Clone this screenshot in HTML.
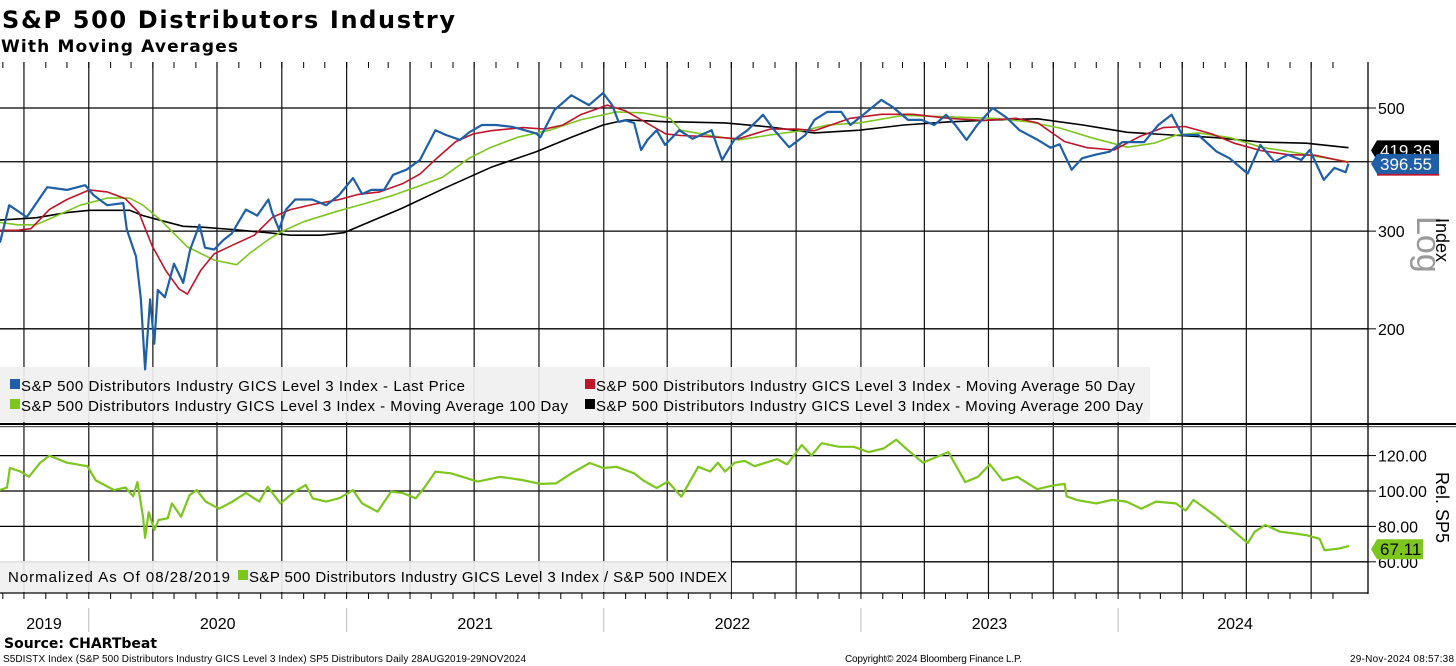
<!DOCTYPE html>
<html><head><meta charset="utf-8"><style>
html,body{margin:0;padding:0;background:#fff;}
svg{display:block;font-family:"Liberation Sans","DejaVu Sans",sans-serif;}
</style></head><body>
<svg id="chart" width="1456" height="666" viewBox="0 0 1456 666" xmlns="http://www.w3.org/2000/svg">
<text x="2" y="28" font-family="DejaVu Sans, sans-serif" font-weight="bold" font-size="24" textLength="453">S&amp;P 500 Distributors Industry</text>
<text x="1" y="52" font-family="DejaVu Sans, sans-serif" font-weight="bold" font-size="17" textLength="237">With Moving Averages</text>
<g id="grid"></g>
<rect x="0" y="367" width="1150" height="55" fill="#f0f0f0" opacity="0.92"/>
<rect x="0" y="561" width="731" height="31" fill="#f0f0f0" opacity="0.92"/>
<g id="series"></g>
<g font-size="15">
<rect x="10" y="379" width="10" height="10" fill="#1f5fa8"/><text x="21" y="391" textLength="444">S&amp;P 500 Distributors Industry GICS Level 3 Index - Last Price</text>
<rect x="10" y="399" width="10" height="10" fill="#7dc61e"/><text x="21" y="411" textLength="547">S&amp;P 500 Distributors Industry GICS Level 3 Index - Moving Average 100 Day</text>
<rect x="585" y="379" width="10" height="10" fill="#c0142a"/><text x="596" y="391" textLength="539">S&amp;P 500 Distributors Industry GICS Level 3 Index - Moving Average 50 Day</text>
<rect x="585" y="399" width="10" height="10" fill="#000"/><text x="596" y="411" textLength="547">S&amp;P 500 Distributors Industry GICS Level 3 Index - Moving Average 200 Day</text>
</g>
<g font-size="15">
<text x="8" y="582" textLength="222">Normalized As Of 08/28/2019</text>
<rect x="238" y="570" width="10" height="10" fill="#7dc61e"/><text x="249" y="582" textLength="478">S&amp;P 500 Distributors Industry GICS Level 3 Index / S&amp;P 500 INDEX</text>
</g>
<rect x="0" y="423" width="1456" height="2" fill="#000"/><rect x="0" y="426" width="1456" height="1.2" fill="#555"/>
<g id="axes"></g>
<text transform="translate(1417,216) rotate(90)" font-size="34" fill="#9a9a9a">Log</text>
<text transform="translate(1436,218) rotate(90)" font-size="18">Index</text>
<text transform="translate(1436,472) rotate(90)" font-size="18">Rel. SP5</text>
<text x="4" y="648" font-family="DejaVu Sans, sans-serif" font-weight="bold" font-size="14">Source: CHARTbeat</text>
<text x="3" y="662" font-size="10" textLength="523">S5DISTX Index (S&amp;P 500 Distributors Industry GICS Level 3 Index) SP5 Distributors  Daily 28AUG2019-29NOV2024</text>
<text x="845" y="662" font-size="10" textLength="177">Copyright© 2024 Bloomberg Finance L.P.</text>
<text x="1350" y="662" font-size="10" textLength="104">29-Nov-2024 08:57:38</text>
</svg>
<script>
// time axis: days since 28-Aug-2019
const priceDays=[0,13,38,67,95,121,133,152,175,180,193,200,206,213,219,224,234,247,260,270,283,291,304,317,329,349,365,381,386,396,406,419,443,463,481,501,514,527,545,558,577,596,618,633,653,666,684,704,728,761,767,787,811,824,836,856,869,878,888,900,910,919,932,944,964,983,1010,1025,1042,1061,1083,1099,1120,1143,1156,1174,1194,1207,1225,1251,1267,1289,1308,1326,1343,1356,1372,1387,1409,1429,1447,1473,1491,1504,1521,1536,1555,1575,1593,1624,1644,1663,1678,1701,1727,1745,1771,1789,1809,1828,1847,1859,1879,1894,1910,1914];
const priceVals=[286,334,318,360,356,363,348,334,337,302,270,226,169,226,188,235,228,262,242,278,308,280,278,289,297,328,320,342,325,302,328,342,342,334,348,374,350,356,356,379,387,403,456,447,438,452,466,466,462,450,443,496,527,516,506,532,506,472,475,470,420,438,456,429,456,440,456,403,438,456,486,456,425,447,476,492,492,466,486,517,502,476,476,466,486,466,438,466,500,480,456,438,424,430,387,406,412,417,434,434,466,486,447,447,417,406,381,429,400,412,403,420,371,390,383,397];
const ma50Days=[0,25,44,70,95,127,152,178,197,216,235,254,266,285,304,330,361,387,412,444,482,507,539,571,596,621,647,672,697,742,773,799,824,862,888,919,945,966,1004,1048,1093,1131,1156,1207,1251,1296,1346,1397,1442,1473,1511,1543,1581,1619,1651,1682,1720,1752,1790,1828,1866,1914];
const ma50Vals=[301,301,303,328,342,356,353,343,324,282,255,236,231,255,273,283,295,318,328,335,342,349,353,365,380,407,435,449,455,461,458,466,486,506,494,469,449,446,444,440,458,458,455,479,487,487,479,475,479,470,435,424,420,445,461,463,449,432,419,412,411,399];
const ma100Days=[0,25,51,76,114,152,184,203,228,266,304,336,355,380,399,431,476,520,558,590,628,666,697,735,780,824,875,913,951,966,1004,1048,1093,1143,1175,1220,1283,1346,1410,1461,1505,1549,1600,1638,1670,1701,1746,1790,1841,1914];
const ma100Vals=[311,308,308,318,334,344,344,334,314,281,266,261,274,289,299,312,325,337,348,360,375,406,425,443,456,476,492,490,479,456,447,438,447,456,466,470,485,482,479,472,460,442,425,432,447,451,442,425,415,400];
const ma200Days=[0,51,95,127,184,203,235,260,285,330,380,412,456,488,507,571,634,697,761,811,856,888,951,966,1029,1093,1156,1220,1283,1346,1410,1473,1537,1600,1663,1727,1790,1854,1914];
const ma200Vals=[314,317,324,327,327,320,312,306,305,302,298,295,295,298,305,330,360,391,417,443,466,476,472,472,470,462,451,456,466,472,476,478,466,452,447,442,434,432,424];
const relDays=[0,10,14,29,41,57,70,95,124,136,162,178,189,195,203,206,211,219,225,238,244,257,269,279,292,311,330,349,368,380,398,418,434,444,463,482,501,514,536,555,571,590,602,618,640,678,710,741,767,789,811,837,856,875,900,913,932,948,967,991,1008,1019,1029,1043,1057,1071,1103,1117,1138,1152,1166,1191,1212,1233,1254,1272,1289,1310,1328,1346,1370,1388,1405,1423,1444,1472,1493,1511,1514,1528,1556,1578,1599,1620,1641,1669,1683,1694,1725,1746,1771,1781,1796,1817,1838,1855,1873,1880,1901,1915];
const relVals=[100.5,102,113,111,108,116,120,116,114,106,100.5,102,97,105,85.5,73.5,88,78,83.6,84.6,93,85.5,97.7,100.5,94,90,94,98.9,94,102.4,93,99.6,103.4,95.8,94,96,100.5,93,88.3,99.6,98.9,95.9,101.7,110.9,110,105.3,108,106.2,104,104.3,110,115.8,113,113.7,110,106,101.7,105.3,96.8,113.7,111,116,111,116,117,114,118,115,126,120,127,125,125,122,124,129,123,116,119,122,105,108,115,106,108,101,103,104,97,95,93,95,94,90,94,93,89,95,86,79,70.6,77,80.8,77,76,75,73,66.5,67.5,69];
const topTicks=[500,400,300,200];
const relTicks=[120,100,80,60];
const yearLabels=["2019","2020","2021","2022","2023","2024"];
const yearStartDays=[-240,126,492,857,1222,1587];
const lastPrice=396.55, last200=419.36, last50=392, lastRel=67.11;

const NS="http://www.w3.org/2000/svg";
const DAYS_PX=1352/1919;
const xS=d=>d*DAYS_PX;
const yTop=v=>108-241*Math.log(v/500);
const yRel=v=>491-1.77*(v-100);
const RIGHT=1368;
function mk(tag,attrs,parent){const e=document.createElementNS(NS,tag);for(const k in attrs)e.setAttribute(k,attrs[k]);parent.appendChild(e);return e;}
const grid=document.getElementById('grid'), ser=document.getElementById('series'), ax=document.getElementById('axes');

// horizontal gridlines
topTicks.forEach(v=>{const l=mk('line',{x1:0,x2:RIGHT,y1:yTop(v),y2:yTop(v),stroke:'#000','stroke-width':1.3},grid);


const t=mk('text',{x:RIGHT+10,y:yTop(v)+6,'font-size':16},ax);t.textContent=v;


mk('line',{x1:RIGHT,x2:RIGHT+8,y1:yTop(v),y2:yTop(v),stroke:'#000'},ax);});
relTicks.forEach(v=>{const l=mk('line',{x1:0,x2:RIGHT,y1:yRel(v),y2:yRel(v),stroke:'#000','stroke-width':1.3},grid);


const t=mk('text',{x:RIGHT+10,y:yRel(v)+6,'font-size':16},ax);t.textContent=v.toFixed(2);


mk('line',{x1:RIGHT,x2:RIGHT+8,y1:yRel(v),y2:yRel(v),stroke:'#000'},ax);});
// vertical quarter gridlines + monthly ticks
for(let y=2019;y<=2024;y++){for(let m=0;m<12;m++){
 const d=(Date.UTC(y,m,1)-Date.UTC(2019,7,28))/864e5; if(d<0||d>1919)continue;
 const x=xS(d);
 if(m%3===0){const l=mk('line',{x1:x,x2:x,y1:62,y2:593,stroke:'#111','stroke-width':1.2},grid);
 
 }
 mk('line',{x1:x,x2:x,y1:62,y2:68,stroke:'#000'},ax);
 mk('line',{x1:x,x2:x,y1:593,y2:599,stroke:'#000'},ax);
}}
mk('line',{x1:RIGHT,x2:RIGHT,y1:62,y2:594,stroke:'#000','stroke-width':1.3},ax);
mk('line',{x1:0,x2:RIGHT,y1:593,y2:593,stroke:'#000','stroke-width':1.3},ax);
// year labels
yearLabels.forEach((lab,i)=>{const s=Math.max(0,xS(yearStartDays[i]));const e=i<5?xS(yearStartDays[i+1]):1352;
 if(i>0){mk('line',{x1:s,x2:s,y1:608,y2:632,stroke:'#bbb'},ax);}
 const t=mk('text',{x:i===0?44:(s+e)/2,y:629,'font-size':16,'text-anchor':'middle'},ax);t.textContent=lab;
 
 });
function line(ds,vs,ysc,color,w,name){const p=ds.map((d,i)=>(i?'L':'M')+xS(d).toFixed(1)+','+ysc(vs[i]).toFixed(1)).join('');
 const e=mk('path',{d:p,fill:'none',stroke:color,'stroke-width':w,'stroke-linejoin':'round'},ser);
 
 }
line(ma200Days,ma200Vals,yTop,'#000',1.6,'ma200-line');
line(ma100Days,ma100Vals,yTop,'#7dc61e',1.6,'ma100-line');
line(ma50Days,ma50Vals,yTop,'#c0142a',1.6,'ma50-line');
line(priceDays,priceVals,yTop,'#1f5fa8',2.2,'price-line');
line(relDays,relVals,yRel,'#7dc61e',2.2,'relative-line');
// value tags
function tag(v,ysc,bg,fg,label,name,w){const y=ysc(v);
 const g=mk('g',{},ax);
 
 
 mk('path',{d:`M${RIGHT+3},${y} L${RIGHT+9},${y-10} L${RIGHT+9+w},${y-10} L${RIGHT+9+w},${y+10} L${RIGHT+9},${y+10}Z`,fill:bg},g);
 const t=mk('text',{x:RIGHT+12,y:y+6,'font-size':17,fill:fg},g);t.textContent=label;}
tag(last200,yTop,'#000','#fff',last200.toFixed(2),'ma200-value-tag',62);
mk('rect',{x:RIGHT+9,y:yTop(last50)+6,width:62,height:3,fill:'#c0142a'},ax);
tag(lastPrice,yTop,'#1f5fa8','#fff',lastPrice.toFixed(2),'price-value-tag',62);
tag(lastRel,yRel,'#7dc61e','#000',lastRel.toFixed(2),'rel-value-tag',46);
</script>
</body></html>
